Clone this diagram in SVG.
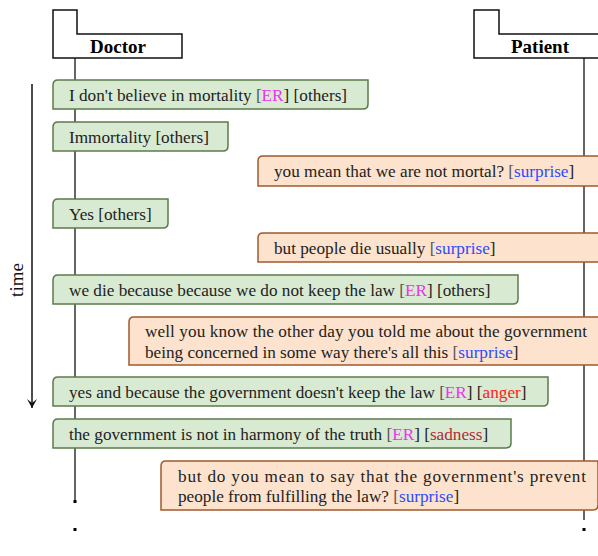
<svg xmlns="http://www.w3.org/2000/svg" width="598" height="556" viewBox="0 0 598 556">
<defs>
<style>
text{font-family:"Liberation Serif","DejaVu Serif",serif;font-size:17.2px;fill:#222}
.hdr{fill:#fff;stroke:#111;stroke-width:1.5}
.hname{font-weight:bold;font-size:19px;fill:#000;text-anchor:middle}
.tl{font-size:19px;fill:#111;text-anchor:middle}
.life{stroke:#333;stroke-width:1.5;fill:none}
.g{fill:#d9ead3;stroke:#5b7b4b;stroke-width:1.5}
.o{fill:#fde3cd;stroke:#a05a2c;stroke-width:1.5}
.er{fill:#ee33ee}
.su{fill:#2a4bff}
.an{fill:#ff2020}
.sa{fill:#b02a3a}
.br{fill:#555}
</style>
<marker id="ah" markerWidth="10" markerHeight="10" refX="9" refY="5" orient="auto" markerUnits="userSpaceOnUse">
<path d="M0,0 L9,5 L0,10 L4,5 Z" fill="#111"/>
</marker>
</defs>
<g id="connectors">
<line class="life" x1="75" y1="58" x2="75" y2="500"/>
<rect x="73.5" y="500" width="3" height="3" fill="#000"/>
<rect x="73.5" y="528" width="3" height="3" fill="#000"/>
<line class="life" x1="584" y1="58" x2="584" y2="520"/>
<rect x="582.5" y="528" width="3" height="3" fill="#000"/>
<line x1="32" y1="84" x2="32" y2="408" stroke="#111" stroke-width="1.5" marker-end="url(#ah)"/>
</g>
<g id="time-label">
<text class="tl" x="23" y="280" transform="rotate(-90 23 280)">time</text>
</g>
<g id="doctor">
<path class="hdr" d="M53,10 H77 V34 H182 V58 H53 Z"/>
<text class="hname" x="118" y="53">Doctor</text>
</g>
<g id="patient">
<path class="hdr" d="M474,10 H499 V34 H602 V58 H474 Z"/>
<text class="hname" x="540" y="53">Patient</text>
</g>
<g id="m1">
<path class="g" d="M58,80 H368 V104 Q368,109 363,109 H53 V85 Q53,80 58,80 Z"/>
<text x="69" y="101">I don't believe in mortality <tspan class="br">[</tspan><tspan class="er">ER</tspan>] [others]</text>
</g>
<g id="m2">
<path class="g" d="M58,122 H228 V146 Q228,151 223,151 H53 V127 Q53,122 58,122 Z"/>
<text x="69" y="143">Immortality [others]</text>
</g>
<g id="m3">
<path class="o" d="M263,156 H602 V186 H258 V161 Q258,156 263,156 Z"/>
<text x="274" y="177">you mean that we are not mortal? <tspan class="br">[</tspan><tspan class="su">surprise</tspan>]</text>
</g>
<g id="m4">
<path class="g" d="M58,199 H168 V223 Q168,228 163,228 H53 V204 Q53,199 58,199 Z"/>
<text x="69" y="220">Yes [others]</text>
</g>
<g id="m5">
<path class="o" d="M263,233 H602 V262 H258 V238 Q258,233 263,233 Z"/>
<text x="274" y="254">but people die usually <tspan class="br">[</tspan><tspan class="su">surprise</tspan>]</text>
</g>
<g id="m6">
<path class="g" d="M58,275 H518 V299 Q518,304 513,304 H53 V280 Q53,275 58,275 Z"/>
<text x="69" y="296">we die because because we do not keep the law <tspan class="br">[</tspan><tspan class="er">ER</tspan>] [others]</text>
</g>
<g id="m7">
<path class="o" d="M134,317 H602 V365 H129 V322 Q129,317 134,317 Z"/>
<text x="145" y="337" textLength="442" lengthAdjust="spacing">well you know the other day you told me about the government</text>
<text x="145" y="358">being concerned in some way there's all this <tspan class="br">[</tspan><tspan class="su">surprise</tspan>]</text>
</g>
<g id="m8">
<path class="g" d="M58,377 H548 V401 Q548,406 543,406 H53 V382 Q53,377 58,377 Z"/>
<text x="69" y="398">yes and because the government doesn't keep the law <tspan class="br">[</tspan><tspan class="er">ER</tspan>] [<tspan class="an">anger</tspan>]</text>
</g>
<g id="m9">
<path class="g" d="M58,419 H511 V443 Q511,448 506,448 H53 V424 Q53,419 58,419 Z"/>
<text x="69" y="440">the government is not in harmony of the truth <tspan class="br">[</tspan><tspan class="er">ER</tspan>] [<tspan class="sa">sadness</tspan>]</text>
</g>
<g id="m10">
<path class="o" d="M166,461 H598 V505 Q598,510 593,510 H161 V466 Q161,461 166,461 Z"/>
<text x="178" y="482" textLength="408" lengthAdjust="spacing">but do you mean to say that the government's prevent</text>
<text x="178" y="502">people from fulfilling the law? <tspan class="br">[</tspan><tspan class="su">surprise</tspan>]</text>
</g>
</svg>
